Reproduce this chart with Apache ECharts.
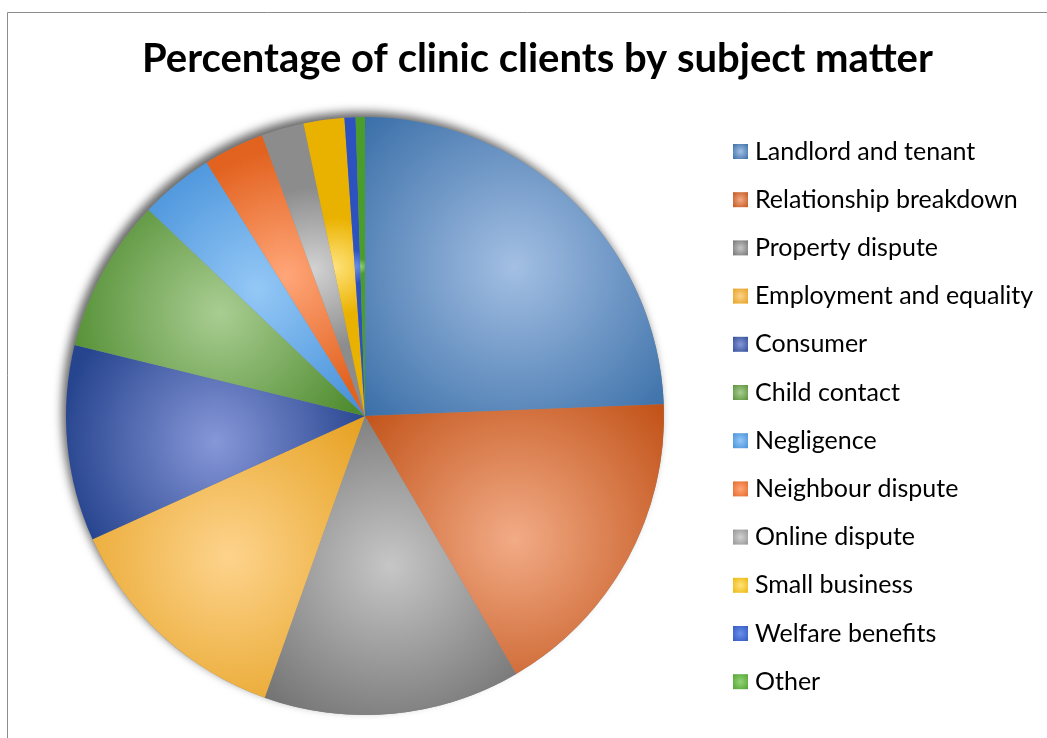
<!DOCTYPE html>
<html>
<head>
<meta charset="utf-8">
<script src="https://cdn.jsdelivr.net/npm/echarts@6/dist/echarts.min.js"></script>
<style>
html,body{margin:0;padding:0;background:#fff;}
#chart{width:1047px;height:738px;}
</style>
</head>
<body>
<div id="chart"></div>
<script>
const titleText = 'Percentage of clinic clients by subject matter';
const categories = ['Landlord and tenant','Relationship breakdown','Property dispute','Employment and equality','Consumer','Child contact','Negligence','Neighbour dispute','Online dispute','Small business','Welfare benefits','Other'];
const values = [24.4,17.2,13.9,12.8,10.6,8.3,4.0,3.3,2.3,2.2,0.6,0.5];
const centerColors = ['#a3bfe3','#f2ab86','#c6c6c6','#fdd38c','#8797d8','#a9cd92','#94c8f6','#ffa679','#d2d2d2','#ffe27a','#6a90ea','#93d476'];
const edgeColors   = ['#2c64a0','#bd4a0e','#6a6a6a','#e39a12','#27458f','#4e8b2e','#3d8ad6','#e2621f','#8c8c8c','#eab200','#2d52bf','#4b9d2b'];

function grad(i){
  return {type:'radial',x:0.5,y:0.5,r:0.8,colorStops:[
    {offset:0,color:centerColors[i]},
    {offset:1,color:edgeColors[i]}
  ]};
}

const chart = echarts.init(document.getElementById('chart'));
chart.setOption({
  animation:false,
  backgroundColor:'#fff',
  graphic:[{type:'rect',left:5,top:10,shape:{width:1100,height:800},style:{fill:'none',stroke:'#8c8c8c',lineWidth:1},z:-10}],
  title:{text:titleText,left:142,top:39,padding:0,
    textStyle:{fontFamily:'Lato',fontWeight:'bold',fontSize:40,color:'#000'}},
  legend:{orient:'vertical',left:733,top:139,padding:0,itemWidth:15,itemHeight:15,itemGap:23.2,
    data:categories,icon:'rect',
    textStyle:{fontFamily:'Lato',fontSize:25,lineHeight:25,color:'#000',padding:[0,0,0,2]}},
  series:[
    {type:'pie',silent:true,center:[365,416],radius:299,z:1,label:{show:false},labelLine:{show:false},
     data:[{value:1,name:'_bg',itemStyle:{color:'#888',shadowBlur:10,shadowOffsetX:-4,shadowOffsetY:-5,shadowColor:'rgba(0,0,0,0.6)'}}],
     tooltip:{show:false}},
    {type:'pie',center:[365,416],radius:299,startAngle:90,clockwise:true,z:2,
     label:{show:false},labelLine:{show:false},
     itemStyle:{borderWidth:0},
     data:categories.map((c,i)=>({name:c,value:values[i],itemStyle:{color:grad(i)}}))}
  ]
});
</script>
</body>
</html>
